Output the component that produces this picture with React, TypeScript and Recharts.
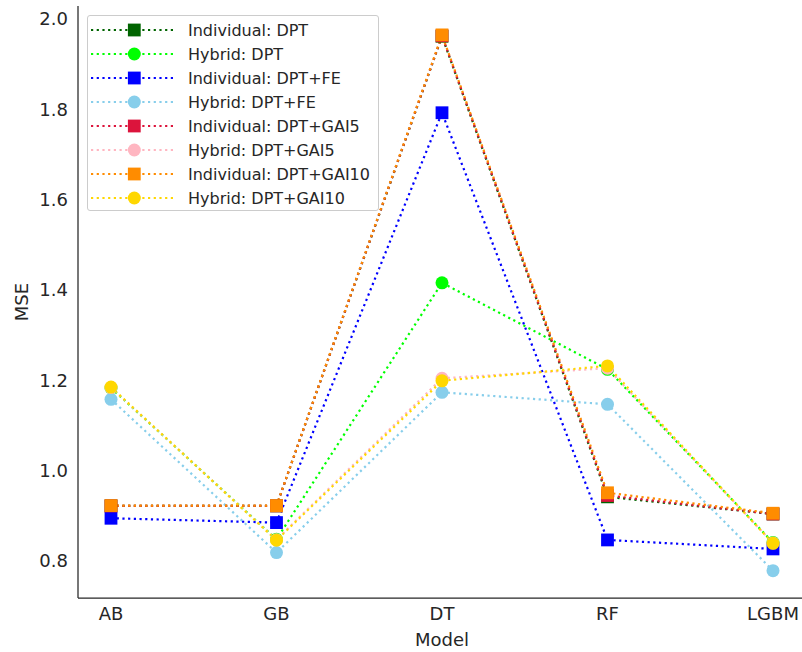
import { LineChart, Line, XAxis, YAxis } from "recharts";

const models = ["AB", "GB", "DT", "RF", "LGBM"];
const yTicks = [0.8, 1.0, 1.2, 1.4, 1.6, 1.8, 2.0];

const indDPT = [0.922, 0.922, 1.962, 0.942, 0.904];
const hybDPT = [1.183, 0.848, 1.416, 1.2245, 0.841];
const indFE = [0.8946, 0.885, 1.7926, 0.8466, 0.8267];
const hybFE = [1.158, 0.8185, 1.1735, 1.147, 0.7786];
const indGAI5 = [0.922, 0.922, 1.963, 0.945, 0.904];
const hybGAI5 = [1.184, 0.847, 1.2045, 1.227, 0.84];
const indGAI10 = [0.9225, 0.9225, 1.965, 0.951, 0.9057];
const hybGAI10 = [1.185, 0.846, 1.199, 1.232, 0.839];

const series = [
  { key: "indDPT", name: "Individual: DPT", values: indDPT, color: "#006400", shape: "square" },
  { key: "hybDPT", name: "Hybrid: DPT", values: hybDPT, color: "#00ff00", shape: "circle" },
  { key: "indFE", name: "Individual: DPT+FE", values: indFE, color: "#0000ff", shape: "square" },
  { key: "hybFE", name: "Hybrid: DPT+FE", values: hybFE, color: "#87ceeb", shape: "circle" },
  { key: "indGAI5", name: "Individual: DPT+GAI5", values: indGAI5, color: "#dc143c", shape: "square" },
  { key: "hybGAI5", name: "Hybrid: DPT+GAI5", values: hybGAI5, color: "#ffb6c1", shape: "circle" },
  { key: "indGAI10", name: "Individual: DPT+GAI10", values: indGAI10, color: "#ff8c00", shape: "square" },
  { key: "hybGAI10", name: "Hybrid: DPT+GAI10", values: hybGAI10, color: "#ffd700", shape: "circle" },
];

const data = models.map((model, i) => {
  const row: Record<string, string | number> = { model };
  series.forEach((s) => (row[s.key] = s.values[i]));
  return row;
});

const FONT = "DejaVu Sans";
const TEXT = "#262626";
const DASH = "2.2 3.5";
const FRAME = { stroke: "#262626", strokeWidth: 1.25 };

function marker(shape: string, color: string, cx: number, cy: number, k?: any) {
  if (shape === "square") {
    return <rect key={k} x={cx - 6.4} y={cy - 6.4} width={12.8} height={12.8} fill={color} />;
  }
  return <circle key={k} cx={cx} cy={cy} r={6.5} fill={color} />;
}

// legend drawn as a plain box over the plot, like matplotlib's upper-left legend
function LegendBox() {
  return (
    <div
      style={{
        position: "absolute",
        left: 87,
        top: 15,
        width: 292,
        height: 196,
        boxSizing: "border-box",
        border: "1px solid #cccccc",
        borderRadius: 3,
        background: "rgba(255,255,255,0.8)",
        paddingTop: 2,
        fontFamily: FONT,
        fontSize: 16,
        color: TEXT,
      }}
    >
      {series.map((s) => (
        <div key={s.key} style={{ height: 24, display: "flex", alignItems: "center" }}>
          <svg width={100} height={24} style={{ flex: "none" }}>
            <line x1={3} y1={12} x2={88} y2={12} stroke={s.color} strokeWidth={2.2} strokeDasharray={DASH} />
            {marker(s.shape, s.color, 46.3, 12)}
          </svg>
          <span style={{ whiteSpace: "nowrap" }}>{s.name}</span>
        </div>
      ))}
    </div>
  );
}

export default function App() {
  return (
    <div style={{ position: "absolute", left: 0, top: 0, width: 802, height: 652, overflow: "hidden", background: "#fff" }}>
      <LineChart width={840} height={652} data={data} margin={{ top: 6, right: 34, bottom: 0, left: 0 }}>
        <XAxis
          dataKey="model"
          padding={{ left: 33, right: 33 }}
          height={54}
          axisLine={FRAME}
          tickLine={false}
          tickSize={6}
          tickMargin={3}
          interval={0}
          tick={{ fontSize: 18, fontFamily: FONT, fill: TEXT }}
          label={{ value: "Model", position: "insideBottom", offset: 6, fontSize: 18, fontFamily: FONT, fill: TEXT }}
        />
        {/* top spine */}
        <XAxis
          xAxisId="top"
          orientation="top"
          dataKey="model"
          padding={{ left: 33, right: 33 }}
          height={0}
          axisLine={FRAME}
          tickLine={false}
          tick={false}
        />
        <YAxis
          type="number"
          domain={[0.718, 2.029]}
          ticks={yTicks}
          allowDataOverflow
          width={78}
          axisLine={FRAME}
          tickLine={false}
          tickSize={6}
          tickMargin={4}
          tickFormatter={(v: number) => v.toFixed(1)}
          tick={{ fontSize: 18, fontFamily: FONT, fill: TEXT }}
          label={{ value: "MSE", angle: -90, position: "center", dx: -17, fontSize: 18, fontFamily: FONT, fill: TEXT }}
        />
        {series.map((s) => (
          <Line
            key={s.key}
            dataKey={s.key}
            name={s.name}
            stroke={s.color}
            strokeWidth={2.2}
            strokeDasharray={DASH}
            isAnimationActive={false}
            activeDot={false}
            dot={(p: any) => marker(s.shape, s.color, p.cx, p.cy, `${s.key}-${p.index}`)}
          />
        ))}
      </LineChart>
      <LegendBox />
    </div>
  );
}
